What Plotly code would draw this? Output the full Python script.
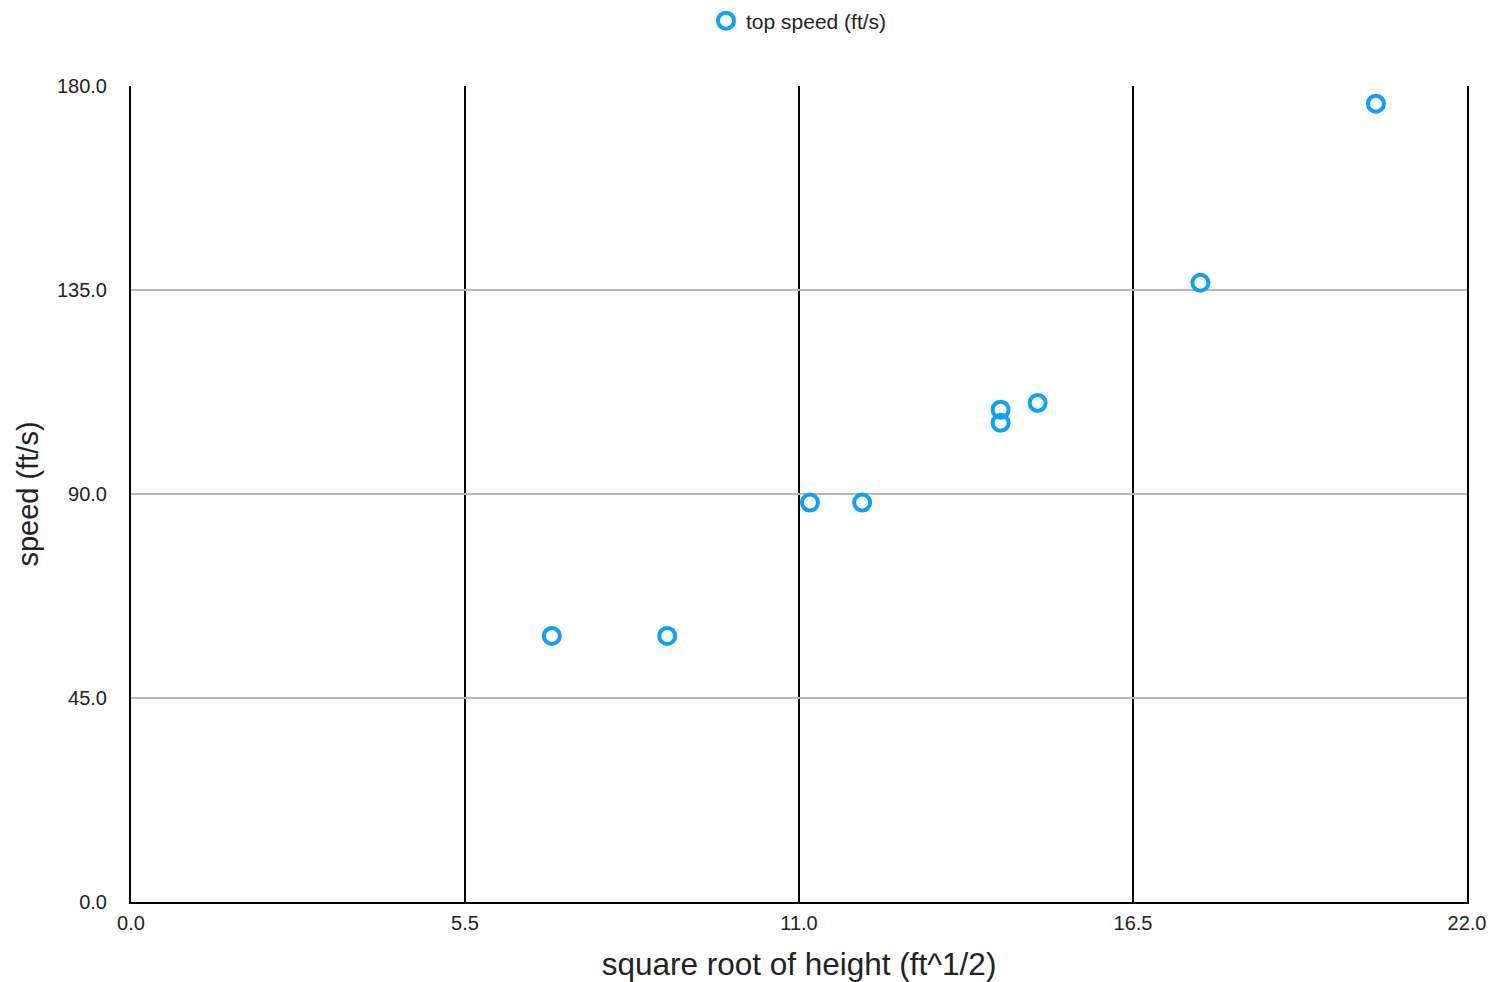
import plotly.graph_objects as go

sqrt_height = [6.93, 8.83, 11.18, 12.04, 14.32, 14.32, 14.93, 17.61, 20.50]
top_speed = [58.7, 58.7, 88.1, 88.1, 105.7, 108.6, 110.1, 136.6, 176.1]

x_ticks = [0.0, 5.5, 11.0, 16.5, 22.0]
y_ticks = [0.0, 45.0, 90.0, 135.0, 180.0]

FONT = "Liberation Sans, Arial, sans-serif"
BLUE = "#0AA2FA"

fig = go.Figure()
fig.add_trace(go.Scatter(
    x=sqrt_height, y=top_speed, mode="markers", name="top speed (ft/s)",
    marker=dict(symbol="circle-open", size=16, color=BLUE, line=dict(width=4, color=BLUE)),
))

fig.update_layout(
    width=1489, height=982,
    margin=dict(l=131, r=22, t=86, b=80, autoexpand=False),
    paper_bgcolor="white", plot_bgcolor="white",
    font=dict(family=FONT, color="#222", size=20),
    showlegend=True,
    legend=dict(orientation="h", x=0.5, xanchor="center", y=1 + (86 - 21) / 816,
                yanchor="middle", font=dict(size=21)),
    xaxis=dict(
        range=[0, 22], tickvals=x_ticks, ticktext=[f"{v:.1f}" for v in x_ticks],
        showgrid=True, gridcolor="black", gridwidth=2,
        showline=True, linecolor="black", linewidth=2,
        zeroline=False, ticks="outside", ticklen=2, tickcolor="rgba(0,0,0,0)",
        tickfont=dict(size=20), automargin=False,
        title=dict(text="square root of height (ft^1/2)", font=dict(size=31.5), standoff=36),
    ),
    yaxis=dict(
        range=[0, 180], tickvals=y_ticks, ticktext=[f"{v:.1f}" for v in y_ticks],
        showgrid=True, gridcolor="#b8b8b8", gridwidth=2,
        showline=True, linecolor="black", linewidth=2, mirror=True,
        zeroline=False, ticks="outside", ticklen=18, tickcolor="rgba(0,0,0,0)",
        tickfont=dict(size=20), automargin=False,
        title=dict(text="speed (ft/s)", font=dict(size=29), standoff=10),
    ),
)

fig.write_html("out.html", post_script="document.body.style.margin='0';",
               config={"displayModeBar": False})
